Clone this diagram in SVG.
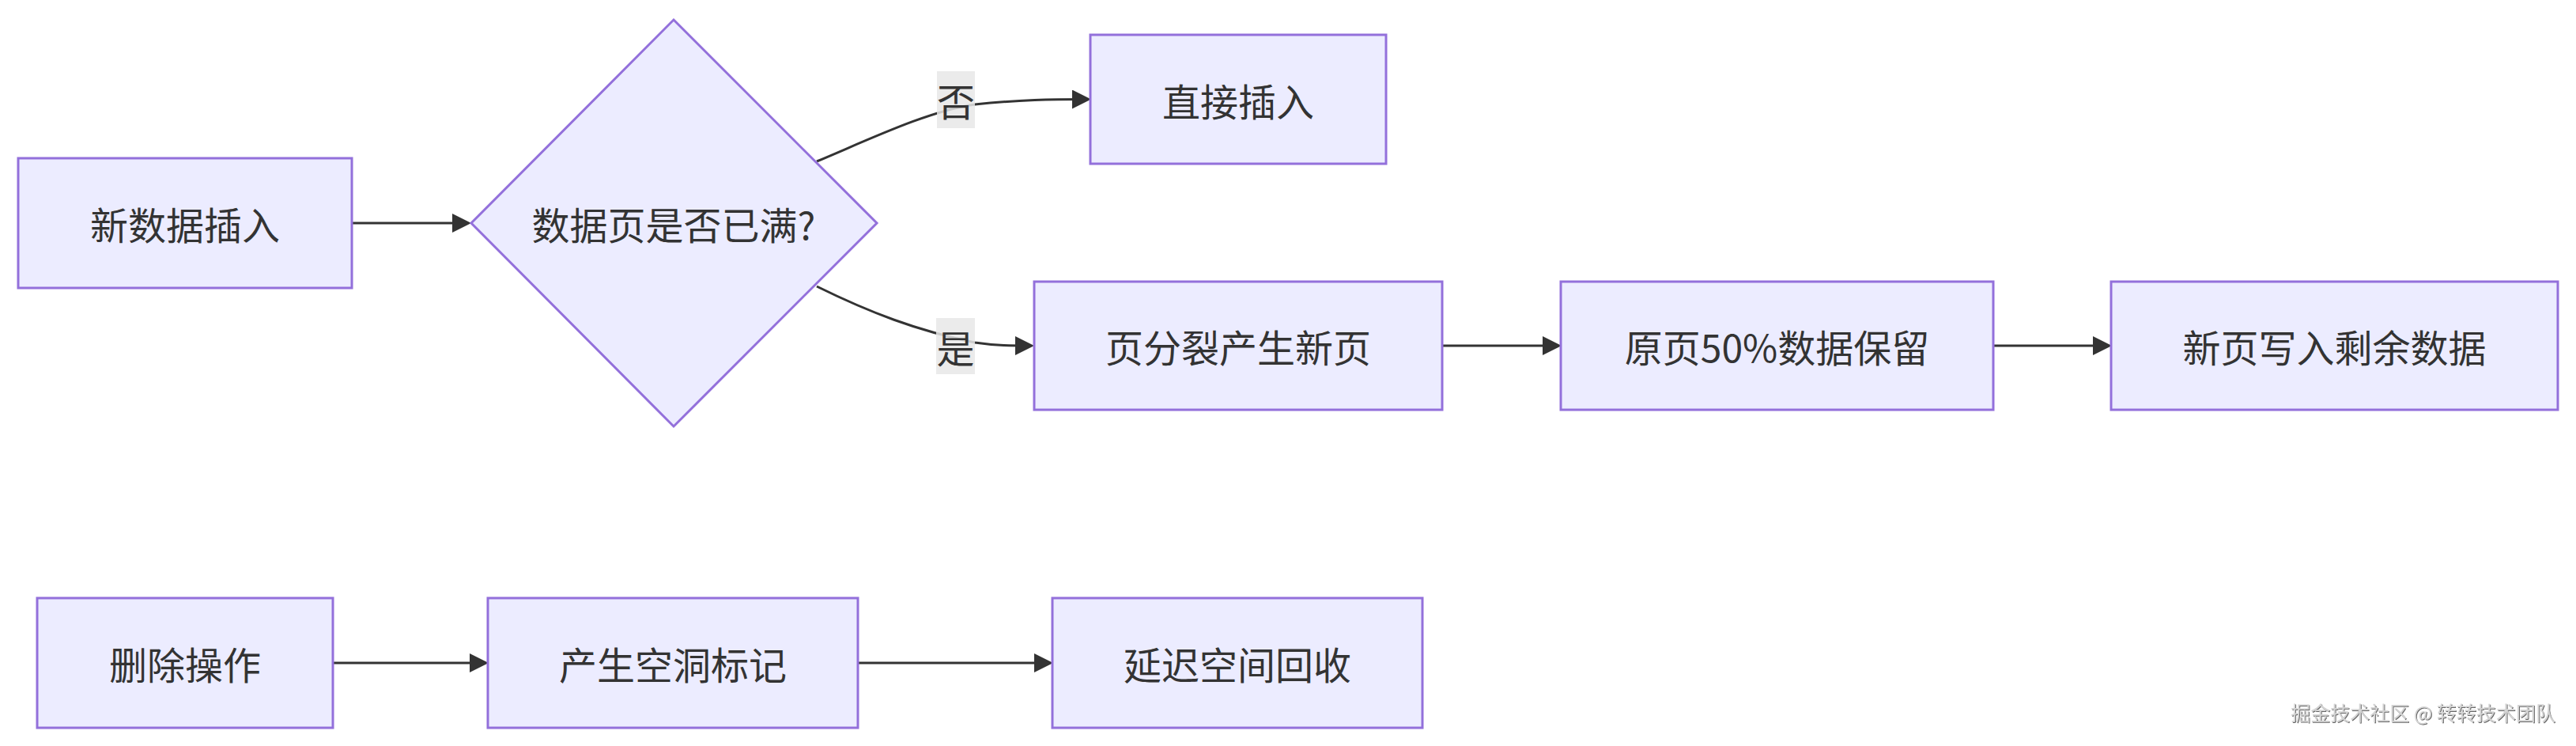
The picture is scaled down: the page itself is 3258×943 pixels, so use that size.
<svg xmlns="http://www.w3.org/2000/svg" width="3258" height="943" viewBox="0 0 3258 943">
<style>
.node rect, .node polygon { fill: #ECECFF; stroke: #9370DB; stroke-width: 3; }
.node text, .lbl text { font-family: "Noto Sans CJK SC", "Noto Sans", sans-serif; font-size: 48px; fill: #333333; text-anchor: middle; dominant-baseline: central; }
.edges path { fill: none; stroke: #333333; stroke-width: 3; }
.lbl rect { fill: #e8e8e8; opacity: 0.85; }
.wm { font-family: "Noto Sans CJK SC", sans-serif; font-size: 25px; fill: #d4d4d4; text-anchor: end; filter: url(#emb); }
</style>
<defs>
<marker id="arr" markerUnits="userSpaceOnUse" markerWidth="24" markerHeight="24" refX="19" refY="12" orient="auto">
<path d="M0,0 L24,12 L0,24 z" fill="#333333"/>
</marker>
<filter id="emb" x="-5%" y="-30%" width="110%" height="160%">
<feDropShadow dx="1" dy="1" stdDeviation="0.6" flood-color="#555555" flood-opacity="0.9"/>
</filter>
</defs>
<g id="edges" class="edges">
<path d="M445,282 L591,282" marker-end="url(#arr)"/>
<path d="M1033,204 C1100,176 1175,140 1233,132 C1290,126 1330,125.5 1375,125.5" marker-end="url(#arr)"/>
<path d="M1033,362 C1100,395 1160,418 1233,433 C1260,437 1280,437 1303,437" marker-end="url(#arr)"/>
<path d="M1824,437 L1970,437" marker-end="url(#arr)"/>
<path d="M2521,437 L2666,437" marker-end="url(#arr)"/>
<path d="M421,838 L613,838" marker-end="url(#arr)"/>
<path d="M1085,838 L1327,838" marker-end="url(#arr)"/>
</g>
<g id="label-no" class="lbl"><rect x="1185" y="90" width="48" height="72"/><text x="1209" y="126">否</text></g>
<g id="label-yes" class="lbl"><rect x="1184" y="402" width="49" height="71"/><text x="1208.5" y="437.5">是</text></g>
<g id="n-insert" class="node"><rect x="23" y="200" width="422" height="164"/><text x="234" y="282">新数据插入</text></g>
<g id="n-full" class="node"><polygon points="852,25 1109,282 852,539 596,282"/><text x="852" y="282">数据页是否已满?</text></g>
<g id="n-direct" class="node"><rect x="1379" y="44" width="374" height="163"/><text x="1566" y="125.5">直接插入</text></g>
<g id="n-split" class="node"><rect x="1308" y="356" width="516" height="162"/><text x="1566" y="437">页分裂产生新页</text></g>
<g id="n-keep" class="node"><rect x="1974" y="356" width="547" height="162"/><text x="2247.5" y="437">原页50%数据保留</text></g>
<g id="n-write" class="node"><rect x="2670" y="356" width="565" height="162"/><text x="2952.5" y="437">新页写入剩余数据</text></g>
<g id="n-delete" class="node"><rect x="47" y="756" width="374" height="164"/><text x="234" y="838">删除操作</text></g>
<g id="n-hole" class="node"><rect x="617" y="756" width="468" height="164"/><text x="851" y="838">产生空洞标记</text></g>
<g id="n-reclaim" class="node"><rect x="1331" y="756" width="468" height="164"/><text x="1565" y="838">延迟空间回收</text></g>
<text class="wm" x="3232" y="911">掘金技术社区 @ 转转技术团队</text>
</svg>
